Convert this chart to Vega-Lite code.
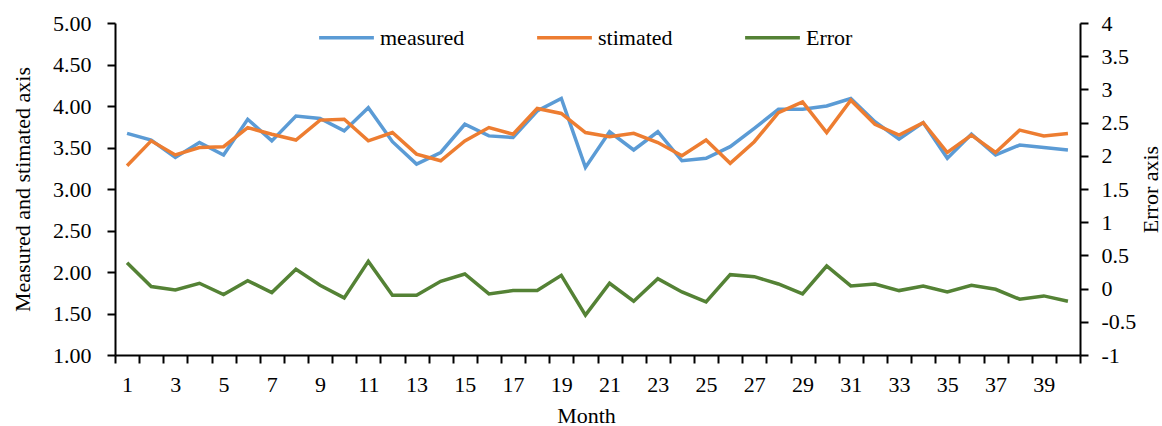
{
  "$schema": "https://vega.github.io/schema/vega-lite/v6.json",
  "autosize": {"type": "none"},
  "padding": {"left": 115, "top": 23, "right": 82, "bottom": 71},
  "width": 965,
  "height": 332,
  "background": "white",
  "config": {
    "view": {"stroke": null},
    "font": "Liberation Serif",
    "axis": {
      "labelFont": "Liberation Serif",
      "labelFontSize": 22,
      "labelColor": "black",
      "titleFont": "Liberation Serif",
      "titleFontSize": 22,
      "titleFontWeight": "normal",
      "titleColor": "black",
      "domainColor": "black",
      "domainWidth": 2,
      "tickColor": "black",
      "tickWidth": 2,
      "tickSize": 8,
      "grid": false
    }
  },
  "data": {
    "values": [
      {"month": 1, "measured": 3.67, "stimated": 3.28, "Error": 0.39},
      {"month": 2, "measured": 3.59, "stimated": 3.58, "Error": 0.03},
      {"month": 3, "measured": 3.38, "stimated": 3.41, "Error": -0.02},
      {"month": 4, "measured": 3.56, "stimated": 3.50, "Error": 0.08},
      {"month": 5, "measured": 3.41, "stimated": 3.51, "Error": -0.09},
      {"month": 6, "measured": 3.84, "stimated": 3.74, "Error": 0.12},
      {"month": 7, "measured": 3.58, "stimated": 3.66, "Error": -0.06},
      {"month": 8, "measured": 3.88, "stimated": 3.59, "Error": 0.29},
      {"month": 9, "measured": 3.85, "stimated": 3.83, "Error": 0.05},
      {"month": 10, "measured": 3.70, "stimated": 3.84, "Error": -0.14},
      {"month": 11, "measured": 3.98, "stimated": 3.58, "Error": 0.41},
      {"month": 12, "measured": 3.57, "stimated": 3.68, "Error": -0.10},
      {"month": 13, "measured": 3.30, "stimated": 3.42, "Error": -0.10},
      {"month": 14, "measured": 3.44, "stimated": 3.34, "Error": 0.11},
      {"month": 15, "measured": 3.78, "stimated": 3.58, "Error": 0.22},
      {"month": 16, "measured": 3.64, "stimated": 3.74, "Error": -0.08},
      {"month": 17, "measured": 3.62, "stimated": 3.66, "Error": -0.03},
      {"month": 18, "measured": 3.94, "stimated": 3.97, "Error": -0.03},
      {"month": 19, "measured": 4.09, "stimated": 3.91, "Error": 0.20},
      {"month": 20, "measured": 3.26, "stimated": 3.68, "Error": -0.40},
      {"month": 21, "measured": 3.69, "stimated": 3.63, "Error": 0.08},
      {"month": 22, "measured": 3.47, "stimated": 3.67, "Error": -0.19},
      {"month": 23, "measured": 3.69, "stimated": 3.56, "Error": 0.15},
      {"month": 24, "measured": 3.34, "stimated": 3.40, "Error": -0.05},
      {"month": 25, "measured": 3.37, "stimated": 3.59, "Error": -0.20},
      {"month": 26, "measured": 3.51, "stimated": 3.31, "Error": 0.21},
      {"month": 27, "measured": 3.73, "stimated": 3.57, "Error": 0.18},
      {"month": 28, "measured": 3.96, "stimated": 3.92, "Error": 0.07},
      {"month": 29, "measured": 3.96, "stimated": 4.05, "Error": -0.08},
      {"month": 30, "measured": 4.00, "stimated": 3.68, "Error": 0.34},
      {"month": 31, "measured": 4.09, "stimated": 4.07, "Error": 0.04},
      {"month": 32, "measured": 3.81, "stimated": 3.78, "Error": 0.07},
      {"month": 33, "measured": 3.60, "stimated": 3.65, "Error": -0.03},
      {"month": 34, "measured": 3.80, "stimated": 3.80, "Error": 0.04},
      {"month": 35, "measured": 3.37, "stimated": 3.44, "Error": -0.05},
      {"month": 36, "measured": 3.66, "stimated": 3.65, "Error": 0.05},
      {"month": 37, "measured": 3.41, "stimated": 3.44, "Error": -0.01},
      {"month": 38, "measured": 3.53, "stimated": 3.71, "Error": -0.16},
      {"month": 39, "measured": 3.50, "stimated": 3.64, "Error": -0.11},
      {"month": 40, "measured": 3.47, "stimated": 3.67, "Error": -0.19}
    ]
  },
  "encoding": {
    "x": {
      "field": "month",
      "type": "quantitative",
      "scale": {"domain": [0.5, 40.5], "nice": false, "zero": false},
      "axis": {
        "title": "Month",
        "titleX": 471,
        "titleY": 67,
        "titleBaseline": "alphabetic",
        "titleAlign": "center",
        "values": [0.5, 1, 1.5, 2.5, 3, 3.5, 4.5, 5, 5.5, 6.5, 7, 7.5, 8.5, 9, 9.5, 10.5, 11, 11.5, 12.5, 13, 13.5, 14.5, 15, 15.5, 16.5, 17, 17.5, 18.5, 19, 19.5, 20.5, 21, 21.5, 22.5, 23, 23.5, 24.5, 25, 25.5, 26.5, 27, 27.5, 28.5, 29, 29.5, 30.5, 31, 31.5, 32.5, 33, 33.5, 34.5, 35, 35.5, 36.5, 37, 37.5, 38.5, 39, 39.5, 40.5],
        "labelExpr": "datum.value % 1 === 0 ? '' + datum.value : ''",
        "tickOpacity": {"condition": {"test": "datum.value % 1 === 0", "value": 0}, "value": 1},
        "labelOverlap": false,
        "labelFlush": false,
        "labelBound": false,
        "labelPadding": 11
      }
    },
    "color": {
      "field": "key",
      "type": "nominal",
      "scale": {"domain": ["measured", "stimated", "Error"], "range": ["#5B9BD5", "#ED7D31", "#548235"]},
      "legend": {
        "orient": "none",
        "legendX": 202,
        "legendY": -15,
        "direction": "horizontal",
        "title": null,
        "symbolType": "stroke",
        "symbolSize": 3000,
        "symbolStrokeWidth": 3.5,
        "labelFont": "Liberation Serif",
        "labelFontSize": 22,
        "labelColor": "black",
        "labelOffset": 4,
        "columnPadding": 65,
        "padding": 0
      }
    }
  },
  "layer": [
    {
      "transform": [{"fold": ["measured", "stimated"]}],
      "mark": {"type": "line", "strokeWidth": 3.5},
      "encoding": {
        "y": {
          "field": "value",
          "type": "quantitative",
          "scale": {"domain": [1, 5], "nice": false, "zero": false},
          "axis": {
            "orient": "left",
            "values": [1, 1.5, 2, 2.5, 3, 3.5, 4, 4.5, 5],
            "format": ".2f",
            "labelPadding": 16,
            "title": "Measured and stimated axis",
            "titleAngle": -90,
            "titleX": -93,
            "titleY": 166,
            "titleAlign": "center",
            "titleBaseline": "middle"
          }
        }
      }
    },
    {
      "transform": [{"fold": ["Error"]}],
      "mark": {"type": "line", "strokeWidth": 3.5},
      "encoding": {
        "y": {
          "field": "value",
          "type": "quantitative",
          "scale": {"domain": [-1, 4], "nice": false, "zero": false},
          "axis": {
            "orient": "right",
            "values": [-1, -0.5, 0, 0.5, 1, 1.5, 2, 2.5, 3, 3.5, 4],
            "labelExpr": "'' + datum.value",
            "labelPadding": 13,
            "title": "Error axis",
            "titleAngle": -90,
            "titleX": 70,
            "titleY": 166,
            "titleAlign": "center",
            "titleBaseline": "middle"
          }
        }
      }
    }
  ],
  "resolve": {"scale": {"y": "independent"}, "axis": {"y": "independent"}}
}
